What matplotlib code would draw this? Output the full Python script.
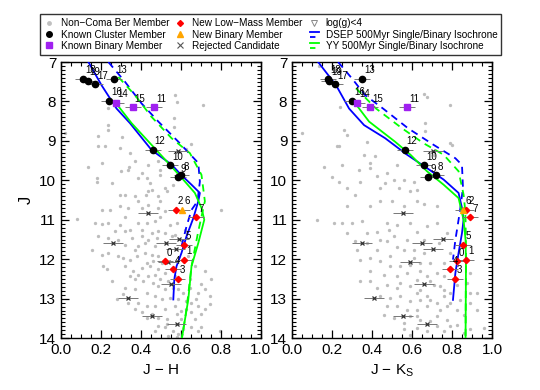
"""Coma Ber CMDs: J vs J-H and J vs J-Ks with isochrones."""

import matplotlib

matplotlib.use("Agg")
import matplotlib.pyplot as plt  # noqa: E402
from matplotlib.lines import Line2D  # noqa: E402
from matplotlib.legend_handler import HandlerBase  # noqa: E402
from matplotlib.ticker import MultipleLocator  # noqa: E402

plt.rcParams.update({
    "font.family": ["Liberation Sans", "DejaVu Sans"],
    "mathtext.fontset": "custom",
    "mathtext.rm": "Liberation Sans",
    "font.size": 11,
    "axes.linewidth": 1.0,
})

# ---- non-members (grey), read per panel
grey_jh = [0.02, 0.187, 0.233, 0.237, 0.233, 0.22, 0.187, 0.303, 0.295, 0.345,
           0.37, 0.34, 0.337, 0.437, 0.203, 0.137, 0.178, 0.178, 0.253, 0.30,
           0.403, 0.387, 0.428, 0.445, 0.453, 0.487, 0.495, 0.495, 0.52, 0.528,
           0.562, 0.57, 0.578, 0.565, 0.565, 0.653, 0.628, 0.712, 0.32, 0.37,
           0.387, 0.423, 0.437, 0.487, 0.495, 0.295, 0.203, 0.245, 0.295, 0.337,
           0.403, 0.437, 0.487, 0.52, 0.803,
           0.078, 0.17, 0.203, 0.237, 0.295, 0.387, 0.428, 0.47, 0.32, 0.495,
           0.545, 0.578, 0.62, 0.27, 0.32, 0.345, 0.403, 0.453, 0.487, 0.52,
           0.57, 0.187, 0.237, 0.287, 0.353, 0.403, 0.437, 0.478, 0.553, 0.32,
           0.387, 0.42, 0.47, 0.153, 0.237, 0.287, 0.312, 0.345, 0.378, 0.42,
           0.453, 0.487, 0.228, 0.32, 0.362, 0.403, 0.445, 0.487, 0.52, 0.637,
           0.67, 0.72, 0.753, 0.745, 0.72, 0.687, 0.37, 0.412, 0.462, 0.487,
           0.52, 0.587, 0.32, 0.37, 0.428, 0.47, 0.503, 0.545, 0.587, 0.628,
           0.653, 0.687, 0.72, 0.278, 0.337, 0.387, 0.428, 0.47, 0.52, 0.57,
           0.603, 0.653, 0.703, 0.403, 0.453, 0.487, 0.528, 0.603, 0.67, 0.487,
           0.52, 0.562, 0.612, 0.653, 0.703, 0.795, 0.537, 0.587,
           0.37, 0.428, 0.462, 0.503, 0.387, 0.437, 0.495, 0.537, 0.562, 0.612,
           0.645, 0.678, 0.628, 0.578, 0.528, 0.47, 0.578, 0.428, 0.37, 0.312,
           0.253, 0.212, 0.203, 0.345, 0.47, 0.57, 0.645, 0.703, 0.745, 0.687]
grey_j_l = [8.81, 8.87, 8.16, 8.60, 8.72, 9.13, 9.14, 8.89, 9.18, 9.31,
            9.52, 9.65, 9.73, 9.61, 9.56, 9.66, 9.94, 10.03, 10.07, 9.76,
            9.82, 9.94, 9.94, 10.07, 10.24, 9.52, 9.73, 9.86, 10.19, 10.28,
            10.13, 7.84, 8.01, 8.43, 8.64, 9.08, 9.20, 8.09, 10.36, 10.40,
            10.53, 10.36, 10.28, 10.40, 10.53, 10.36, 10.74, 10.74, 10.66, 10.71,
            10.70, 10.63, 10.70, 10.78, 10.74,
            10.98, 11.08, 11.10, 11.08, 11.13, 11.08, 11.08, 11.04, 10.92, 10.92,
            11.13, 11.08, 11.25, 11.29, 11.29, 11.25, 11.25, 11.34, 11.29, 11.34,
            11.38, 11.42, 11.46, 11.50, 11.46, 11.42, 11.50, 11.46, 11.42, 11.63,
            11.67, 11.59, 11.67, 11.76, 11.84, 11.92, 11.97, 12.01, 11.92, 11.84,
            11.88, 11.92, 12.26, 12.18, 12.30, 12.22, 12.18, 12.26, 12.34, 11.92,
            12.18, 12.30, 12.51, 12.93, 12.76, 12.85, 12.51, 12.55, 12.60, 12.68,
            12.76, 12.76, 12.72, 12.76, 12.85, 12.93, 13.02, 12.97, 13.02, 13.06,
            13.10, 13.18, 13.27, 13.02, 13.10, 13.10, 13.18, 13.18, 13.27, 13.18,
            13.31, 13.35, 13.39, 13.35, 13.39, 13.48, 13.52, 13.52, 13.52, 13.69,
            13.73, 13.82, 13.77, 13.73, 13.73, 13.82, 13.94, 13.90,
            11.76, 12.09, 12.05, 12.09, 12.39, 12.43, 12.51, 12.55, 12.72, 12.85,
            12.72, 13.02, 13.27, 13.39, 13.65, 13.82, 13.98, 13.48, 13.27, 12.89,
            12.55, 12.18, 11.88, 12.43, 12.39, 12.43, 12.51, 12.64, 13.14, 13.82]

grey_jk = [0.133, 0.05, 0.242, 0.258, 0.275, 0.233, 0.225, 0.158, 0.20, 0.233,
           0.275, 0.25, 0.358, 0.375, 0.392, 0.417, 0.392, 0.333, 0.342, 0.425,
           0.475, 0.467, 0.442, 0.508, 0.533, 0.558, 0.525, 0.658, 0.675, 0.667,
           0.663, 0.792, 0.792, 0.80, 0.708, 0.608, 0.625, 0.625, 0.592, 0.50,
           0.442, 0.392, 0.558, 0.658, 0.725, 0.317, 0.275,
           0.125, 0.208, 0.25, 0.30, 0.35, 0.375, 0.425, 0.475, 0.483, 0.525,
           0.592, 0.625, 0.675, 0.725, 0.775, 0.733, 0.325, 0.375, 0.425, 0.475,
           0.525, 0.575, 0.608, 0.658, 0.342, 0.392, 0.442, 0.492, 0.542, 0.642,
           0.692, 0.725, 0.758, 0.392, 0.458, 0.525, 0.575, 0.625, 0.675, 0.342,
           0.475, 0.525, 0.592, 0.642, 0.708, 0.758, 0.825, 0.875, 0.892, 0.442,
           0.492, 0.542, 0.592, 0.642, 0.692, 0.758, 0.792, 0.842, 0.892, 0.525,
           0.575, 0.625, 0.675, 0.742, 0.825, 0.925, 0.458, 0.508, 0.592, 0.642,
           0.725, 0.775, 0.858, 0.558, 0.625, 0.725, 0.825, 0.892, 0.958, 0.558,
           0.758, 0.675,
           0.508, 0.558, 0.608, 0.492, 0.592, 0.642, 0.692, 0.742, 0.792, 0.542,
           0.425, 0.392, 0.625, 0.675, 0.725, 0.775, 0.475, 0.625, 0.692, 0.792,
           0.592, 0.858, 0.925, 0.892, 0.275, 0.317, 0.442, 0.658, 0.792, 0.758]
grey_j_r = [7.10, 8.81, 8.13, 8.72, 8.85, 9.12, 9.14, 9.65, 9.92, 10.03,
            10.19, 9.61, 9.35, 9.02, 9.56, 9.39, 9.69, 9.73, 10.03, 9.90,
            9.82, 10.07, 10.19, 9.98, 10.19, 9.98, 9.61, 7.80, 7.88, 8.55,
            8.76, 8.09, 9.06, 9.10, 9.35, 10.03, 10.24, 10.53, 10.28, 10.53,
            10.53, 10.66, 10.66, 10.61, 10.66, 10.36, 10.66,
            11.00, 11.08, 11.08, 11.08, 11.04, 11.34, 11.30, 11.08, 11.25, 11.13,
            11.08, 11.30, 11.17, 11.08, 11.34, 11.59, 11.76, 11.59, 11.76, 11.55,
            11.68, 11.51, 11.76, 11.84, 12.01, 11.97, 12.05, 11.93, 12.18, 12.10,
            12.10, 12.35, 12.43, 12.31, 12.39, 12.43, 12.35, 12.52, 12.43, 12.56,
            12.65, 12.73, 12.69, 12.77, 12.65, 12.77, 12.65, 12.60, 12.86, 12.94,
            12.98, 12.94, 13.07, 13.03, 13.03, 12.94, 13.11, 13.03, 13.11, 13.19,
            13.28, 13.28, 13.19, 13.28, 13.28, 13.28, 13.41, 13.49, 13.45, 13.53,
            13.45, 13.53, 13.41, 13.62, 13.74, 13.70, 13.66, 13.78, 13.74, 13.78,
            13.83, 13.83,
            11.42, 11.76, 11.97, 12.18, 12.14, 12.31, 12.56, 12.69, 12.86, 12.60,
            12.73, 12.56, 12.86, 12.94, 13.11, 13.19, 13.19, 13.45, 13.57, 13.70,
            13.91, 13.87, 12.86, 12.35, 11.34, 11.55, 11.51, 11.51, 11.84, 12.10]

# ---- known cluster members
known_ids = ["18", "19", "17", "13", "16", "12", "10", "8", "9"]
known_j = [7.42, 7.47, 7.57, 7.42, 7.98, 9.22, 9.62, 9.87, 9.92]
known_jh = [0.112, 0.133, 0.172, 0.267, 0.242, 0.458, 0.547, 0.603, 0.587]
known_jk = [0.18, 0.185, 0.215, 0.35, 0.30, 0.563, 0.662, 0.720, 0.682]

# ---- known binaries
kbin_ids = ["14", "15", "11"]
kbin_j = [8.03, 8.14, 8.14]
kbin_jh = [0.273, 0.358, 0.465]
kbin_jk = [0.325, 0.39, 0.575]

# ---- new low-mass members
new_ids = ["2", "7", "5", "1", "0", "4", "3"]
new_j = [10.75, 10.94, 11.63, 12.01, 12.05, 12.26, 12.49]
new_jh = [0.573, 0.678, 0.615, 0.617, 0.520, 0.558, 0.583]
new_jk = [0.872, 0.892, 0.855, 0.872, 0.825, 0.792, 0.813]

# ---- new binary member
nbin_ids = ["6"]
nbin_j = [10.75]
nbin_jh = [0.608]
nbin_jk = [0.855]

# ---- rejected candidates
rej_j = [9.26, 10.83, 11.49, 11.58, 11.60, 11.73, 12.07, 12.63, 12.99, 13.44, 13.65]
rej_jh = [0.587, 0.437, 0.592, 0.258, 0.525, 0.573, 0.537, 0.550, 0.333, 0.453, 0.578]
rej_jk = [0.705, 0.555, 0.753, 0.350, 0.650, 0.705, 0.592, 0.662, 0.408, 0.555, 0.675]

err_known = 0.04
err_rej = 0.05

# ---- isochrones, J - H
dsep_s_jh = [0.137, 0.203, 0.278, 0.345, 0.453, 0.553, 0.603, 0.653, 0.695, 0.687,
             0.662, 0.628, 0.603, 0.578, 0.567, 0.562]
dsep_s_jh_j = [7.0, 7.59, 8.18, 8.55, 9.23, 9.60, 9.87, 10.11, 10.32, 10.53,
               10.96, 11.42, 11.84, 12.18, 12.51, 13.02]
dsep_b_jh = [0.237, 0.32, 0.403, 0.487, 0.587, 0.687, 0.695, 0.683, 0.653, 0.628, 0.607, 0.60]
dsep_b_jh_j = [7.0, 7.5, 8.05, 8.51, 9.02, 9.56, 10.03, 10.53, 10.75, 11.17, 11.59, 11.75]
yy_s_jh = [0.27, 0.353, 0.453, 0.553, 0.62, 0.67, 0.703, 0.717, 0.687, 0.653, 0.637, 0.605]
yy_s_jh_j = [8.01, 8.55, 9.10, 9.65, 10.03, 10.32, 10.70, 11.0, 11.59, 12.18, 13.02, 14.0]
yy_b_jh = [0.287, 0.37, 0.453, 0.553, 0.645, 0.703, 0.72, 0.687, 0.653, 0.628, 0.605]
yy_b_jh_j = [7.38, 7.84, 8.39, 8.93, 9.31, 9.86, 10.53, 11.29, 12.18, 13.27, 14.0]

# ---- isochrones, J - Ks
dsep_s_jk = [0.13, 0.22, 0.285, 0.36, 0.465, 0.575, 0.675, 0.758, 0.833, 0.85,
             0.858, 0.85, 0.833, 0.817, 0.805]
dsep_s_jk_j = [7.0, 7.59, 8.18, 8.60, 8.93, 9.35, 9.69, 9.98, 10.32, 10.70,
               11.0, 11.34, 11.84, 12.35, 13.03]
dsep_b_jk = [0.23, 0.30, 0.365, 0.455, 0.58, 0.708, 0.817, 0.85, 0.855, 0.842,
             0.833, 0.817, 0.805]
dsep_b_jk_j = [7.0, 7.42, 7.84, 8.18, 8.68, 9.10, 9.44, 9.61, 10.19, 10.70,
               11.0, 11.51, 12.01]
yy_s_jk = [0.31, 0.385, 0.515, 0.592, 0.675, 0.758, 0.833, 0.858, 0.868, 0.87, 0.868]
yy_s_jk_j = [8.01, 8.51, 9.02, 9.35, 9.77, 10.11, 10.45, 11.0, 11.51, 12.18, 14.0]
yy_b_jk = [0.32, 0.42, 0.55, 0.658, 0.758, 0.833, 0.858, 0.865, 0.868, 0.87, 0.868]
yy_b_jk_j = [7.67, 8.18, 8.68, 9.06, 9.35, 9.77, 10.36, 10.70, 11.0, 11.84, 14.0]

GREY = "#bdbdbd"
PURPLE = "#a020f0"
RED = "#ff0000"
ORANGE = "#ffa500"
BLUE = "#0000ff"
GREEN = "#00ff00"


def label_pts(ax, xs, ys, ids):
    for x, y, s in zip(xs, ys, ids):
        ax.annotate(s, (x, y), xytext=(1.5, 2.5), textcoords="offset points",
                    fontsize=7, ha="left", va="bottom", zorder=6)


def panel(ax, gx, gy, kx, bx, nx, nbx, rx, iso):
    ax.plot(gx, gy, "o", ms=2.4, color=GREY, mec="none", zorder=1)
    for (xs, ys, c, ls) in iso:
        ax.plot(xs, ys, color=c, ls=ls, lw=1.3, zorder=3,
                dashes=(4, 3) if ls == "--" else (None, None))
    ax.errorbar(rx, rej_j, xerr=err_rej, fmt="x", ms=3.5, color="#333333",
                mew=0.9, ecolor="#777777", elinewidth=0.7, capsize=0, zorder=4)
    ax.errorbar(kx, known_j, xerr=err_known, fmt="o", ms=4.5, color="black",
                ecolor="#777777", elinewidth=0.7, capsize=0, zorder=5)
    ax.errorbar(bx, kbin_j, xerr=err_known, fmt="s", ms=4.2, color=PURPLE,
                ecolor="#777777", elinewidth=0.7, capsize=0, zorder=5)
    ax.errorbar(nx, new_j, xerr=err_known, fmt="D", ms=3.2, color=RED,
                ecolor="#777777", elinewidth=0.7, capsize=0, zorder=5)
    ax.errorbar(nbx, nbin_j, xerr=err_known, fmt="^", ms=4, color=ORANGE,
                ecolor="#777777", elinewidth=0.7, capsize=0, zorder=5)
    label_pts(ax, kx, known_j, known_ids)
    label_pts(ax, bx, kbin_j, kbin_ids)
    label_pts(ax, nx, new_j, new_ids)
    label_pts(ax, nbx, nbin_j, nbin_ids)

    ax.set_xlim(0, 1)
    ax.set_ylim(14, 7)
    ax.xaxis.set_major_locator(MultipleLocator(0.2))
    ax.xaxis.set_minor_locator(MultipleLocator(0.05))
    ax.yaxis.set_major_locator(MultipleLocator(1))
    ax.yaxis.set_minor_locator(MultipleLocator(0.1))
    ax.xaxis.set_major_formatter(lambda v, p: f"{v:.1f}")
    ax.tick_params(which="both", direction="in", top=True, right=True, labelsize=11)
    ax.tick_params(which="major", length=6, width=0.9)
    ax.tick_params(which="minor", length=3, width=0.8)


fig = plt.figure(figsize=(5.4, 3.9), dpi=100)
axL = fig.add_axes([0.113, 0.133, 0.370, 0.708])
axR = fig.add_axes([0.541, 0.133, 0.370, 0.708])

panel(axL, grey_jh, grey_j_l, known_jh, kbin_jh, new_jh, nbin_jh, rej_jh,
      [(dsep_s_jh, dsep_s_jh_j, BLUE, "-"), (dsep_b_jh, dsep_b_jh_j, BLUE, "--"),
       (yy_s_jh, yy_s_jh_j, GREEN, "-"), (yy_b_jh, yy_b_jh_j, GREEN, "--")])
panel(axR, grey_jk, grey_j_r, known_jk, kbin_jk, new_jk, nbin_jk, rej_jk,
      [(dsep_s_jk, dsep_s_jk_j, BLUE, "-"), (dsep_b_jk, dsep_b_jk_j, BLUE, "--"),
       (yy_s_jk, yy_s_jk_j, GREEN, "-"), (yy_b_jk, yy_b_jk_j, GREEN, "--")])

axL.set_ylabel("J", fontsize=12, labelpad=4)
axL.set_xlabel("J \u2212 H", fontsize=11, labelpad=4)
axR.set_xlabel("J \u2212 K$_\\mathregular{S}$", fontsize=11, labelpad=4)


class TwoLine(HandlerBase):
    """solid over dashed, for the single/binary isochrone entries"""

    def create_artists(self, legend, orig, xd, yd, w, h, fontsize, trans):
        c = orig.get_color()
        top = Line2D([-xd + 1, -xd + w], [-yd + 0.8 * h] * 2, color=c, lw=1.3,
                     transform=trans)
        bot = Line2D([-xd + 1, -xd + w], [-yd + 0.15 * h] * 2, color=c, lw=1.3,
                     dashes=(3, 2), transform=trans)
        return [top, bot]


h_grey = Line2D([], [], ls="none", marker="o", ms=3.5, color="#c0c0c0", mec="none")
h_known = Line2D([], [], ls="none", marker="o", ms=4, color="black")
h_kbin = Line2D([], [], ls="none", marker="s", ms=4, color=PURPLE)
h_new = Line2D([], [], ls="none", marker="D", ms=3, color=RED)
h_nbin = Line2D([], [], ls="none", marker="^", ms=4, color=ORANGE)
h_rej = Line2D([], [], ls="none", marker="x", ms=4, color="#555555", mew=0.8)
h_logg = Line2D([], [], ls="none", marker="v", ms=4, mfc="none", mec="#888888", mew=0.7)
h_dsep = Line2D([], [], color=BLUE)
h_yy = Line2D([], [], color=GREEN)

handles = [h_grey, h_known, h_kbin, h_new, h_nbin, h_rej, h_logg, h_dsep, h_yy]
labels = ["Non\u2212Coma Ber Member", "Known Cluster Member", "Known Binary Member",
          "New Low\u2212Mass Member", "New Binary Member", "Rejected Candidate",
          "log(g)<4", "DSEP 500Myr Single/Binary Isochrone",
          "YY 500Myr Single/Binary Isochrone"]
leg = fig.legend(handles, labels, ncol=3, loc="upper center",
                 bbox_to_anchor=(0.501, 0.976), fontsize=7.2, frameon=True,
                 fancybox=False, edgecolor="black", handlelength=1.0,
                 handletextpad=0.7, columnspacing=0.6, labelspacing=0.12,
                 borderpad=0.4, handler_map={h_dsep: TwoLine(), h_yy: TwoLine()})
leg.get_frame().set_linewidth(1.0)

fig.savefig("out.png", dpi=100)
